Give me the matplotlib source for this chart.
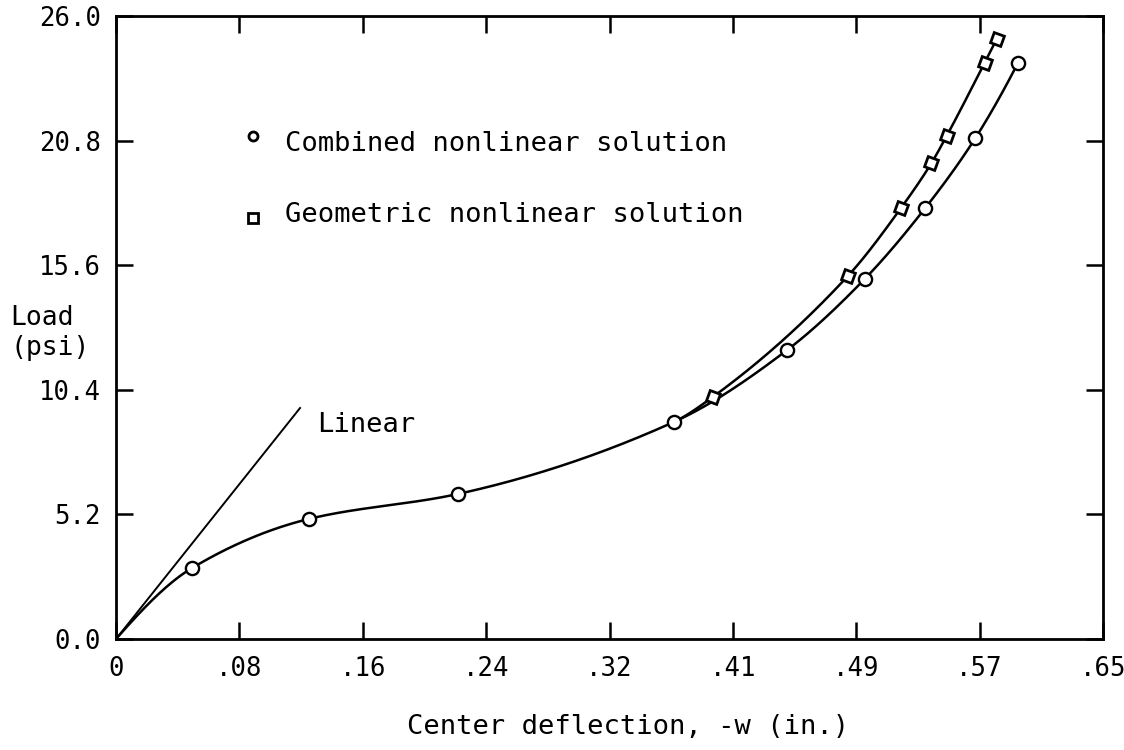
"""
    Load vs. center deflection for the plate problem: combined nonlinear
    solution against geometric nonlinear solution, with the linear line.
"""

import numpy as np
from matplotlib import pyplot as plt

# combined nonlinear solution (circles)
comb_x = [0.050, 0.127, 0.225, 0.3675, 0.442, 0.493, 0.533, 0.566, 0.594]
comb_y = [2.96, 5.01, 6.05, 9.06, 12.06, 15.02, 17.99, 20.91, 24.04]

# geometric nonlinear solution (diamonds)
geo_x = [0.393, 0.482, 0.517, 0.537, 0.547, 0.572, 0.580]
geo_y = [10.10, 15.15, 17.99, 19.86, 20.99, 24.04, 25.04]

# linear solution, from the origin
lin_x = [0.0, 0.1212]
lin_y = [0.0, 9.64]

xticks = np.linspace(0, 0.65, 9)
xticklabels = ['0', '.08', '.16', '.24', '.32', '.41', '.49', '.57', '.65']
yticks = [0.0, 5.2, 10.4, 15.6, 20.8, 26.0]
yticklabels = ['0.0', '5.2', '10.4', '15.6', '20.8', '26.0']


def _pchip(x, y, xs):
    """Monotone cubic Hermite curve through the points, for drawing the line
    """
    x = np.asarray(x, float)
    y = np.asarray(y, float)
    h = np.diff(x)
    d = np.diff(y) / h
    n = len(x)
    m = np.zeros(n)
    for k in range(1, n - 1):
        if d[k - 1] * d[k] > 0:
            w1 = 2 * h[k] + h[k - 1]
            w2 = h[k] + 2 * h[k - 1]
            m[k] = (w1 + w2) / (w1 / d[k - 1] + w2 / d[k])
    m[0] = ((2 * h[0] + h[1]) * d[0] - h[0] * d[1]) / (h[0] + h[1])
    m[-1] = ((2 * h[-1] + h[-2]) * d[-1] - h[-1] * d[-2]) / (h[-1] + h[-2])
    idx = np.clip(np.searchsorted(x, xs) - 1, 0, n - 2)
    t = (xs - x[idx]) / h[idx]
    h00 = 2 * t**3 - 3 * t**2 + 1
    h10 = t**3 - 2 * t**2 + t
    h01 = -2 * t**3 + 3 * t**2
    h11 = t**3 - t**2
    return (h00 * y[idx] + h10 * h[idx] * m[idx]
            + h01 * y[idx + 1] + h11 * h[idx] * m[idx + 1])


font = 'DejaVu Sans Mono'
plt.rcParams['font.family'] = font

fig = plt.figure(figsize=(11.24, 7.5), dpi=100)
ax = fig.add_axes([116 / 1124, 1 - 639 / 750, 987 / 1124, 623 / 750])

# curves through the data
cx = np.r_[0.0, comb_x]
cy = np.r_[0.0, comb_y]
xs = np.linspace(cx[0], cx[-1], 400)
ax.plot(xs, _pchip(cx, cy, xs), color='black', lw=1.8, zorder=2)

gx = np.r_[0.0, comb_x[:4], geo_x]
gy = np.r_[0.0, comb_y[:4], geo_y]
xs = np.linspace(comb_x[3], gx[-1], 300)
ax.plot(xs, _pchip(gx, gy, xs), color='black', lw=1.8, zorder=2)

ax.plot(lin_x, lin_y, color='black', lw=1.4, zorder=2)

ax.plot(comb_x, comb_y, ls='none', marker='o', ms=9.5, mfc='white',
        mec='black', mew=1.7, zorder=3)
ax.plot(geo_x, geo_y, ls='none', marker=(4, 0, 25), ms=11, mfc='white',
        mec='black', mew=2.0, zorder=3)

# key
ax.plot([0.139], [0.808], transform=ax.transAxes, ls='none', marker='o',
        ms=6.5, mfc='white', mec='black', mew=2.0, clip_on=False)
ax.plot([0.139], [0.676], transform=ax.transAxes, ls='none', marker='s',
        ms=6.5, mfc='white', mec='black', mew=2.0, clip_on=False)
ax.text(0.171, 0.795, 'Combined nonlinear solution', transform=ax.transAxes,
        fontsize=19.5, va='center', ha='left')
ax.text(0.171, 0.681, 'Geometric nonlinear solution', transform=ax.transAxes,
        fontsize=19.5, va='center', ha='left')
ax.text(0.204, 0.343, 'Linear', transform=ax.transAxes,
        fontsize=19.5, va='center', ha='left')

ax.set_xlim(0, 0.65)
ax.set_ylim(0, 26)
ax.set_xticks(xticks)
ax.set_xticklabels(xticklabels, fontsize=18.5)
ax.set_yticks(yticks)
ax.set_yticklabels(yticklabels, fontsize=18.5)
ax.tick_params(direction='in', length=12, width=1.8, top=True, right=True,
               color='black')
ax.tick_params(axis='x', pad=12)
ax.tick_params(axis='y', pad=11)
for sp in ax.spines.values():
    sp.set_linewidth(2.0)

fig.text(628 / 1124, 1 - 727 / 750, 'Center deflection, -w (in.)',
         fontsize=19.5, ha='center', va='center')
fig.text(10 / 1124, 1 - 333 / 750, 'Load\n(psi)', fontsize=19,
         ha='left', va='center', linespacing=1.2)

fig.savefig('out.png', dpi=100)
